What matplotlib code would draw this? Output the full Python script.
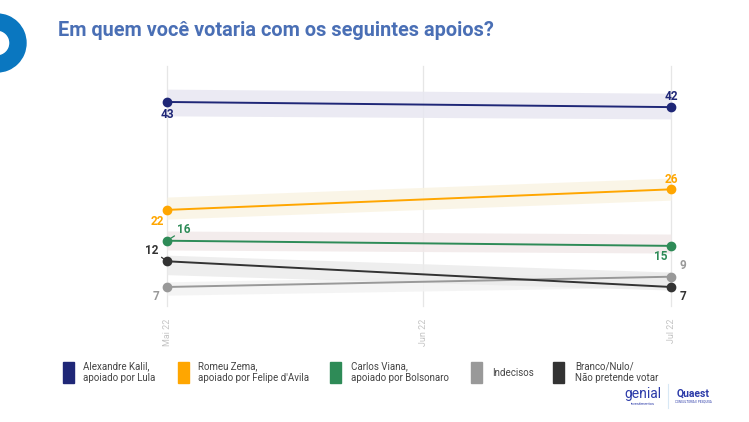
import matplotlib
matplotlib.use("Agg")
import matplotlib.pyplot as plt
import matplotlib.dates as mdates
from matplotlib.patches import Wedge, Rectangle
import datetime as dt

plt.rcParams['font.family'] = ['Roboto', 'DejaVu Sans']

dates = [dt.date(2022, 5, 1), dt.date(2022, 7, 1)]
tick_dates = [dt.date(2022, 5, 1), dt.date(2022, 6, 1), dt.date(2022, 7, 1)]
tick_labels = ["Mai 22", "Jun 22", "Jul 22"]

names = ["Alexandre Kalil,\napoiado por Lula",
         "Romeu Zema,\napoiado por Felipe d'Avila",
         "Carlos Viana,\napoiado por Bolsonaro",
         "Indecisos",
         "Branco/Nulo/\nNão pretende votar"]
kalil = [43, 42]
zema = [22, 26]
viana = [16, 15]
indecisos = [7, 9]
branco = [12, 7]

kalil_lo, kalil_hi = [40.3, 39.7], [45.5, 44.7]
zema_lo, zema_hi = [20.2, 23.9], [24.5, 28.2]
viana_lo, viana_hi = [14.2, 13.6], [17.9, 17.3]
indec_lo, indec_hi = [5.4, 7.0], [8.0, 9.9]
branco_lo, branco_hi = [9.4, 6.4], [13.2, 9.9]

series = [kalil, zema, viana, indecisos, branco]
los = [kalil_lo, zema_lo, viana_lo, indec_lo, branco_lo]
his = [kalil_hi, zema_hi, viana_hi, indec_hi, branco_hi]
colors = ['#1f2777', '#ffa600', '#2e8b57', '#999999', '#333333']
band_colors = ['#e8e7f1', '#faf4e3', '#f1e9e9', '#f3f3f3', '#ebebeb']
label_colors = ['#1f2777', '#ffa600', '#2e8b57', '#999999', '#333333']

# label offsets in pixels (start, end)
offsets = [[(0, -13), (0, 11)],
           [(-10, -12), (0, 10)],
           [(17, 11), (-10, -11)],
           [(-11, -10), (12, 11)],
           [(-15, 11), (12, -10)]]
leaders = [[False, False], [False, False], [True, False], [False, False], [True, False]]

W, H = 749, 422
fig = plt.figure(figsize=(W / 100, H / 100), dpi=100)
fig.patch.set_facecolor('white')

# overlay in pixel coordinates
ov = fig.add_axes([0, 0, 1, 1])
ov.set_xlim(0, W)
ov.set_ylim(H, 0)
ov.axis('off')
ov.add_patch(Wedge((-3, 43), 29, 0, 360, width=16, color='#0a77c0'))
ov.text(58, 31, "Em quem você votaria com os seguintes apoios?", fontsize=14.3,
        fontweight='bold', color='#4a6fb5', va='center', ha='left')

# legend
leg_sq_x = [63, 178, 330, 471, 553]
leg_tx_x = [83, 198, 351, 492, 575]
for i in range(5):
    ov.add_patch(Rectangle((leg_sq_x[i], 362), 11, 21, color=colors[i]))
    ov.text(leg_tx_x[i], 372.5, names[i], fontsize=7.0, color='#444444',
            va='center', ha='left', linespacing=1.2)

# logos
ov.text(643, 394, "genial", fontsize=10, color='#2b3aa8',
        ha='center', va='center')
ov.text(643, 404, "investimentos", fontsize=2.8, color='#2b3aa8', ha='center', va='center')
ov.plot([668, 668], [384, 408], color='#d8e8f5', lw=0.8)
ov.text(693, 394, "Quaest", fontsize=7.5, fontweight='bold', color='#2b3aa8',
        ha='center', va='center')
ov.text(693, 402, "CONSULTORIA E PESQUISA", fontsize=2.2, color='#2b3aa8',
        ha='center', va='center')

# main axes
ax = fig.add_axes([167 / W, 1 - 306 / H, 504 / W, 240 / H])
ax.set_facecolor('none')
x = mdates.date2num(dates)
ax.set_xlim(x[0], x[1])
ax.set_ylim(3.3, 50.0)
for t in mdates.date2num(tick_dates):
    ax.axvline(t, color='#e6e6e6', lw=0.9, zorder=0, clip_on=False)

for i in range(5):
    ax.fill_between(x, los[i], his[i], color=band_colors[i], alpha=0.85, lw=0, zorder=1)
for i in range(5):
    ax.plot(x, series[i], color=colors[i], lw=1.4, marker='o', markersize=6,
            zorder=3 + i * 0.1, clip_on=False)
    for j in range(2):
        dx, dy = offsets[i][j]
        kw = {}
        if leaders[i][j]:
            kw['arrowprops'] = dict(arrowstyle='-', color=colors[i], lw=0.9,
                                    shrinkA=0, shrinkB=0)
        ax.annotate(str(series[i][j]), (x[j], series[i][j]), xytext=(dx, dy),
                    textcoords='offset pixels', ha='center', va='center',
                    fontsize=8.5, fontweight='bold', color=label_colors[i],
                    zorder=5, annotation_clip=False, **kw)

ax.set_xticks(mdates.date2num(tick_dates))
ax.set_xticklabels(tick_labels, rotation=90, fontsize=6.5, color='#c4c4c4')
ax.tick_params(axis='x', length=0, pad=9)
ax.set_yticks([])
for s in ax.spines.values():
    s.set_visible(False)

fig.savefig("out.png", dpi=100, facecolor='white')
